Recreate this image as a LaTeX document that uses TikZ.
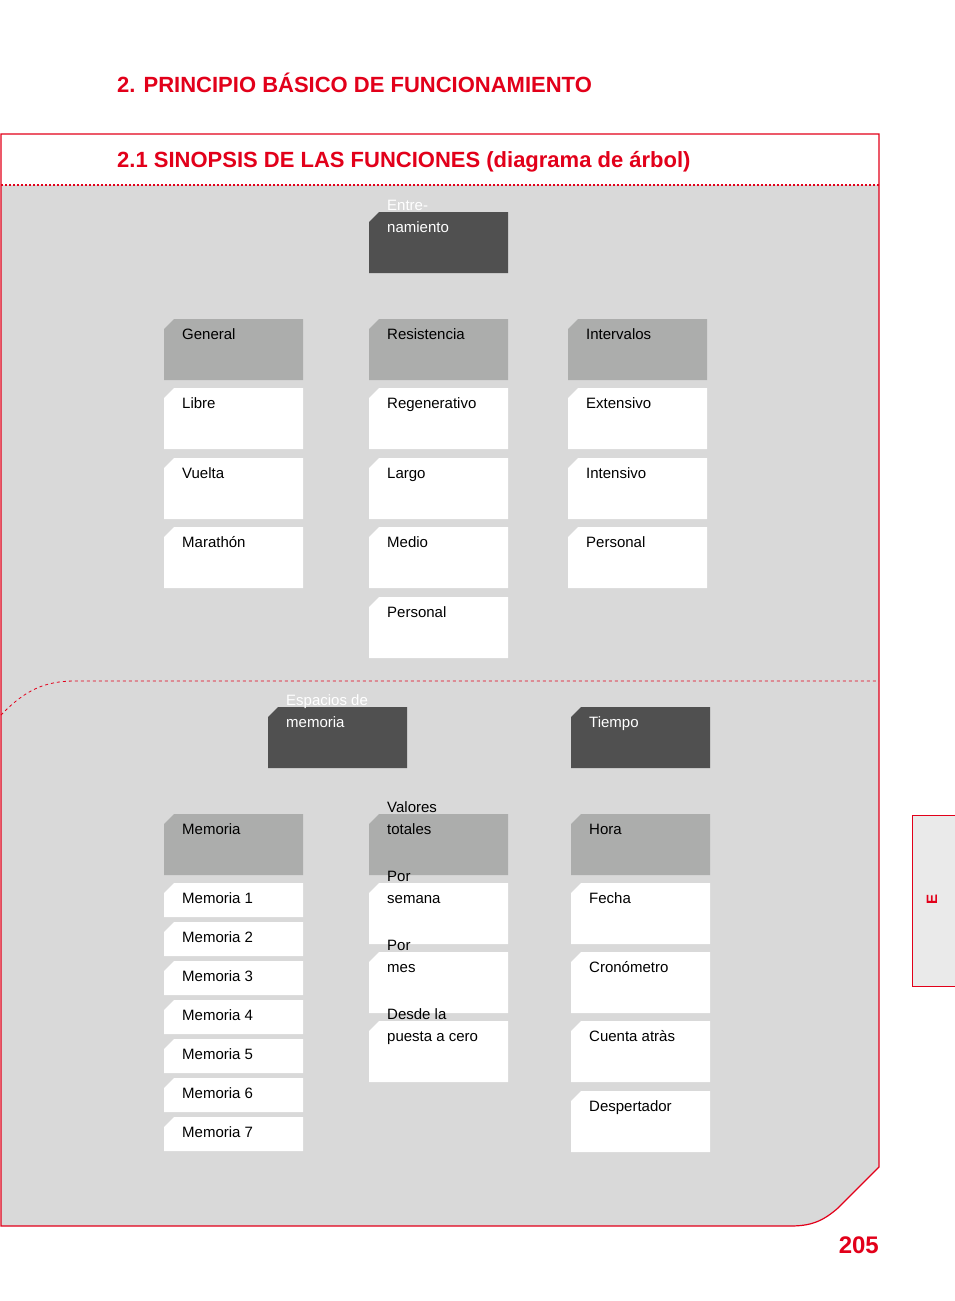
\documentclass[tikz,border=0pt]{standalone}
\usepackage{fontspec}
\setmainfont{Liberation Sans}
\definecolor{rd}{HTML}{E2001A}
\definecolor{dk}{HTML}{505050}
\definecolor{md}{HTML}{ACADAC}
\definecolor{bg}{HTML}{D9D9D9}
\definecolor{tb}{HTML}{EAEAEA}
\begin{document}
\begin{tikzpicture}[x=1pt,y=-1pt,
 lbl/.style={anchor=base west,align=left,inner sep=0pt,font=\fontsize{15}{22}\selectfont}]
\useasboundingbox (0,0) rectangle (954,1301);
\fill[white] (0,0) rectangle (954,1301);
% frame
\fill[bg] (1,185) -- (879,185) -- (879,1167) -- (838,1208) .. controls (822,1222) and (810,1226) .. (790,1226) -- (1,1226) -- cycle;
\draw[rd,line width=1.2pt] (1,1226) -- (1,134) -- (879,134) -- (879,1167) -- (838,1208) .. controls (822,1222) and (810,1226) .. (790,1226) -- cycle;
\draw[rd,line width=1.3pt,dash pattern=on 2pt off 2pt] (1,185) -- (879,185);
\draw[rd,line width=0.8pt,dash pattern=on 3pt off 3pt] (1,715) .. controls (25,690) and (45,681) .. (75,681) -- (879,681);
% titles
\node[anchor=base west,inner sep=0pt,text=rd,font=\fontsize{22}{26}\selectfont\bfseries] (t1) at (117,92) {2. PRINCIPIO BÁSICO DE FUNCIONAMIENTO};
\node[anchor=base west,inner sep=0pt,text=rd,font=\fontsize{22}{26}\selectfont\bfseries] (t2) at (117,167) {2.1 SINOPSIS DE LAS FUNCIONES (diagrama de árbol)};
% tab
\draw[rd,line width=1pt,fill=tb] (955,815) -- (912,815) -- (912,986) -- (955,986);
\node[text=rd,rotate=90,font=\fontsize{15}{18}\selectfont\bfseries] (tab) at (932,899) {E};
\node[anchor=base east,inner sep=0pt,text=rd,font=\fontsize{24}{28}\selectfont\bfseries] (pg) at (879,1253) {205};
% boxes
\newcommand{\bx}[6]{% name,x,y,h,color,text
 \fill[#5] (#2+10,#3) -- (#2+139,#3) -- (#2+139,#3+#4) -- (#2,#3+#4) -- (#2,#3+10) -- cycle;
 \node[lbl,text=#6] (#1) at (#2+18,#3+21) {\strut};}
\newcommand{\B}[7]{%
 \fill[#5] (#2+10,#3) -- (#2+139,#3) -- (#2+139,#3+#4) -- (#2,#3+#4) -- (#2,#3+10) -- cycle;
 \node[lbl,text=#6] (#1) at (#2+18,#3+20) {#7};}
\B{a}{369}{212}{61}{dk}{white}{Entre-\\namiento}
\B{g}{164}{319}{61}{md}{black}{General}
\B{r}{369}{319}{61}{md}{black}{Resistencia}
\B{i}{568}{319}{61}{md}{black}{Intervalos}
\B{g1}{164}{388}{61}{white}{black}{Libre}
\B{g2}{164}{458}{61}{white}{black}{Vuelta}
\B{g3}{164}{527}{61}{white}{black}{Marathón}
\B{r1}{369}{388}{61}{white}{black}{Regenerativo}
\B{r2}{369}{458}{61}{white}{black}{Largo}
\B{r3}{369}{527}{61}{white}{black}{Medio}
\B{r4}{369}{597}{61}{white}{black}{Personal}
\B{i1}{568}{388}{61}{white}{black}{Extensivo}
\B{i2}{568}{458}{61}{white}{black}{Intensivo}
\B{i3}{568}{527}{61}{white}{black}{Personal}
\B{e}{268}{707}{61}{dk}{white}{Espacios de\\memoria}
\B{t}{571}{707}{61}{dk}{white}{Tiempo}
\B{m}{164}{814}{61}{md}{black}{Memoria}
\B{v}{369}{814}{61}{md}{black}{Valores\\totales}
\B{h}{571}{814}{61}{md}{black}{Hora}
\B{m1}{164}{883}{34}{white}{black}{Memoria 1}
\B{m2}{164}{922}{34}{white}{black}{Memoria 2}
\B{m3}{164}{961}{34}{white}{black}{Memoria 3}
\B{m4}{164}{1000}{34}{white}{black}{Memoria 4}
\B{m5}{164}{1039}{34}{white}{black}{Memoria 5}
\B{m6}{164}{1078}{34}{white}{black}{Memoria 6}
\B{m7}{164}{1117}{34}{white}{black}{Memoria 7}
\B{v1}{369}{883}{61}{white}{black}{Por\\semana}
\B{v2}{369}{952}{61}{white}{black}{Por\\mes}
\B{v3}{369}{1021}{61}{white}{black}{Desde la\\puesta a cero}
\B{h1}{571}{883}{61}{white}{black}{Fecha}
\B{h2}{571}{952}{61}{white}{black}{Cronómetro}
\B{h3}{571}{1021}{61}{white}{black}{Cuenta atràs}
\B{h4}{571}{1091}{61}{white}{black}{Despertador}
\end{tikzpicture}
\end{document}
